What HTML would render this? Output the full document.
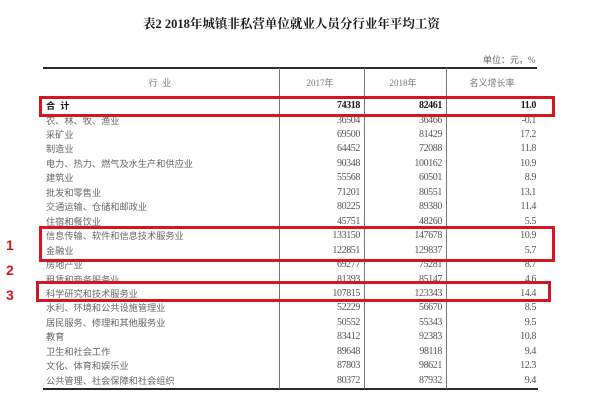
<!DOCTYPE html>
<html><head><meta charset="utf-8">
<style>
html,body{margin:0;padding:0;background:#fff;}
body{width:600px;height:407px;position:relative;overflow:hidden;}
.a{position:absolute;white-space:nowrap;}
.title{left:143px;top:15px;font-size:12.5px;line-height:18px;font-weight:bold;color:#1a1a1a;font-family:"Liberation Serif","Noto Serif CJK SC",serif;}
.unit{left:483px;top:54px;font-size:9px;line-height:12px;color:#666;font-family:"Liberation Serif","Noto Sans CJK SC",sans-serif;}
.hline{position:absolute;background:#2a2a2a;}
.vline{position:absolute;background:#777;width:1px;}
.hd{position:absolute;top:77px;height:12px;line-height:12px;font-size:9px;color:#777;text-align:center;font-family:"Liberation Serif","Noto Sans CJK SC",sans-serif;}
.lb{position:absolute;left:46px;height:14px;line-height:14px;font-size:9.2px;color:#666;font-family:"Liberation Sans","Noto Sans CJK SC",sans-serif;}
.n{position:absolute;height:14px;line-height:14px;font-size:10px;color:#555;text-align:right;letter-spacing:-0.4px;font-family:"Liberation Serif",serif;}
.c1{left:300px;width:60px;}
.c2{left:382px;width:60px;}
.c3{left:476px;width:60px;}
.b{font-weight:bold;color:#1a1a1a;}
.box{position:absolute;border:3px solid #d3161f;box-sizing:border-box;}
.num{position:absolute;left:6px;font-size:14px;line-height:16px;font-weight:bold;color:#d3161f;font-family:"Liberation Sans",sans-serif;}
</style></head><body>
<div class="a title">表2&nbsp;2018年城镇非私营单位就业人员分行业年平均工资</div>
<div class="a unit">单位：元，%</div>

<div class="hline" style="left:43px;top:67px;width:494px;height:2px;"></div>
<div class="hline" style="left:43px;top:388px;width:495px;height:2px;"></div>
<div class="vline" style="left:279px;top:68px;height:321px;"></div>
<div class="vline" style="left:364px;top:68px;height:321px;"></div>
<div class="vline" style="left:446px;top:68px;height:321px;"></div>

<div class="hd" style="left:130px;width:60px;">行&nbsp;&nbsp;业</div>
<div class="hd" style="left:290px;width:60px;">2017年</div>
<div class="hd" style="left:373px;width:60px;">2018年</div>
<div class="hd" style="left:462px;width:60px;">名义增长率</div>

<div class="lb b" style="top:99px;font-weight:bold;color:#1a1a1a;">合&nbsp;&nbsp;计</div>
<div class="n c1 b" style="top:99px;">74318</div><div class="n c2 b" style="top:99px;">82461</div><div class="n c3 b" style="top:99px;">11.0</div>

<div class="lb" style="top:113.5px;">农、林、牧、渔业</div>
<div class="n c1" style="top:113.5px;">36504</div><div class="n c2" style="top:113.5px;">36466</div><div class="n c3" style="top:113.5px;">-0.1</div>

<div class="lb" style="top:128px;">采矿业</div>
<div class="n c1" style="top:128px;">69500</div><div class="n c2" style="top:128px;">81429</div><div class="n c3" style="top:128px;">17.2</div>

<div class="lb" style="top:142.4px;">制造业</div>
<div class="n c1" style="top:142.4px;">64452</div><div class="n c2" style="top:142.4px;">72088</div><div class="n c3" style="top:142.4px;">11.8</div>

<div class="lb" style="top:156.9px;">电力、热力、燃气及水生产和供应业</div>
<div class="n c1" style="top:156.9px;">90348</div><div class="n c2" style="top:156.9px;">100162</div><div class="n c3" style="top:156.9px;">10.9</div>

<div class="lb" style="top:171.3px;">建筑业</div>
<div class="n c1" style="top:171.3px;">55568</div><div class="n c2" style="top:171.3px;">60501</div><div class="n c3" style="top:171.3px;">8.9</div>

<div class="lb" style="top:185.8px;">批发和零售业</div>
<div class="n c1" style="top:185.8px;">71201</div><div class="n c2" style="top:185.8px;">80551</div><div class="n c3" style="top:185.8px;">13.1</div>

<div class="lb" style="top:200.2px;">交通运输、仓储和邮政业</div>
<div class="n c1" style="top:200.2px;">80225</div><div class="n c2" style="top:200.2px;">89380</div><div class="n c3" style="top:200.2px;">11.4</div>

<div class="lb" style="top:214.7px;">住宿和餐饮业</div>
<div class="n c1" style="top:214.7px;">45751</div><div class="n c2" style="top:214.7px;">48260</div><div class="n c3" style="top:214.7px;">5.5</div>

<div class="lb" style="top:229.1px;">信息传输、软件和信息技术服务业</div>
<div class="n c1" style="top:229.1px;">133150</div><div class="n c2" style="top:229.1px;">147678</div><div class="n c3" style="top:229.1px;">10.9</div>

<div class="lb" style="top:243.6px;">金融业</div>
<div class="n c1" style="top:243.6px;">122851</div><div class="n c2" style="top:243.6px;">129837</div><div class="n c3" style="top:243.6px;">5.7</div>

<div class="lb" style="top:258px;">房地产业</div>
<div class="n c1" style="top:258px;">69277</div><div class="n c2" style="top:258px;">75281</div><div class="n c3" style="top:258px;">8.7</div>

<div class="lb" style="top:272.5px;">租赁和商务服务业</div>
<div class="n c1" style="top:272.5px;">81393</div><div class="n c2" style="top:272.5px;">85147</div><div class="n c3" style="top:272.5px;">4.6</div>

<div class="lb" style="top:286.9px;">科学研究和技术服务业</div>
<div class="n c1" style="top:286.9px;">107815</div><div class="n c2" style="top:286.9px;">123343</div><div class="n c3" style="top:286.9px;">14.4</div>

<div class="lb" style="top:301.4px;">水利、环境和公共设施管理业</div>
<div class="n c1" style="top:301.4px;">52229</div><div class="n c2" style="top:301.4px;">56670</div><div class="n c3" style="top:301.4px;">8.5</div>

<div class="lb" style="top:315.8px;">居民服务、修理和其他服务业</div>
<div class="n c1" style="top:315.8px;">50552</div><div class="n c2" style="top:315.8px;">55343</div><div class="n c3" style="top:315.8px;">9.5</div>

<div class="lb" style="top:330.3px;">教育</div>
<div class="n c1" style="top:330.3px;">83412</div><div class="n c2" style="top:330.3px;">92383</div><div class="n c3" style="top:330.3px;">10.8</div>

<div class="lb" style="top:344.7px;">卫生和社会工作</div>
<div class="n c1" style="top:344.7px;">89648</div><div class="n c2" style="top:344.7px;">98118</div><div class="n c3" style="top:344.7px;">9.4</div>

<div class="lb" style="top:359.2px;">文化、体育和娱乐业</div>
<div class="n c1" style="top:359.2px;">87803</div><div class="n c2" style="top:359.2px;">98621</div><div class="n c3" style="top:359.2px;">12.3</div>

<div class="lb" style="top:373.6px;">公共管理、社会保障和社会组织</div>
<div class="n c1" style="top:373.6px;">80372</div><div class="n c2" style="top:373.6px;">87932</div><div class="n c3" style="top:373.6px;">9.4</div>

<div class="box" style="left:39px;top:96px;width:516px;height:21px;"></div>
<div class="box" style="left:39px;top:226px;width:516px;height:36px;"></div>
<div class="box" style="left:36px;top:281px;width:515px;height:21px;"></div>

<div class="num" style="top:237px;">1</div>
<div class="num" style="top:262px;">2</div>
<div class="num" style="top:287px;">3</div>
</body></html>
